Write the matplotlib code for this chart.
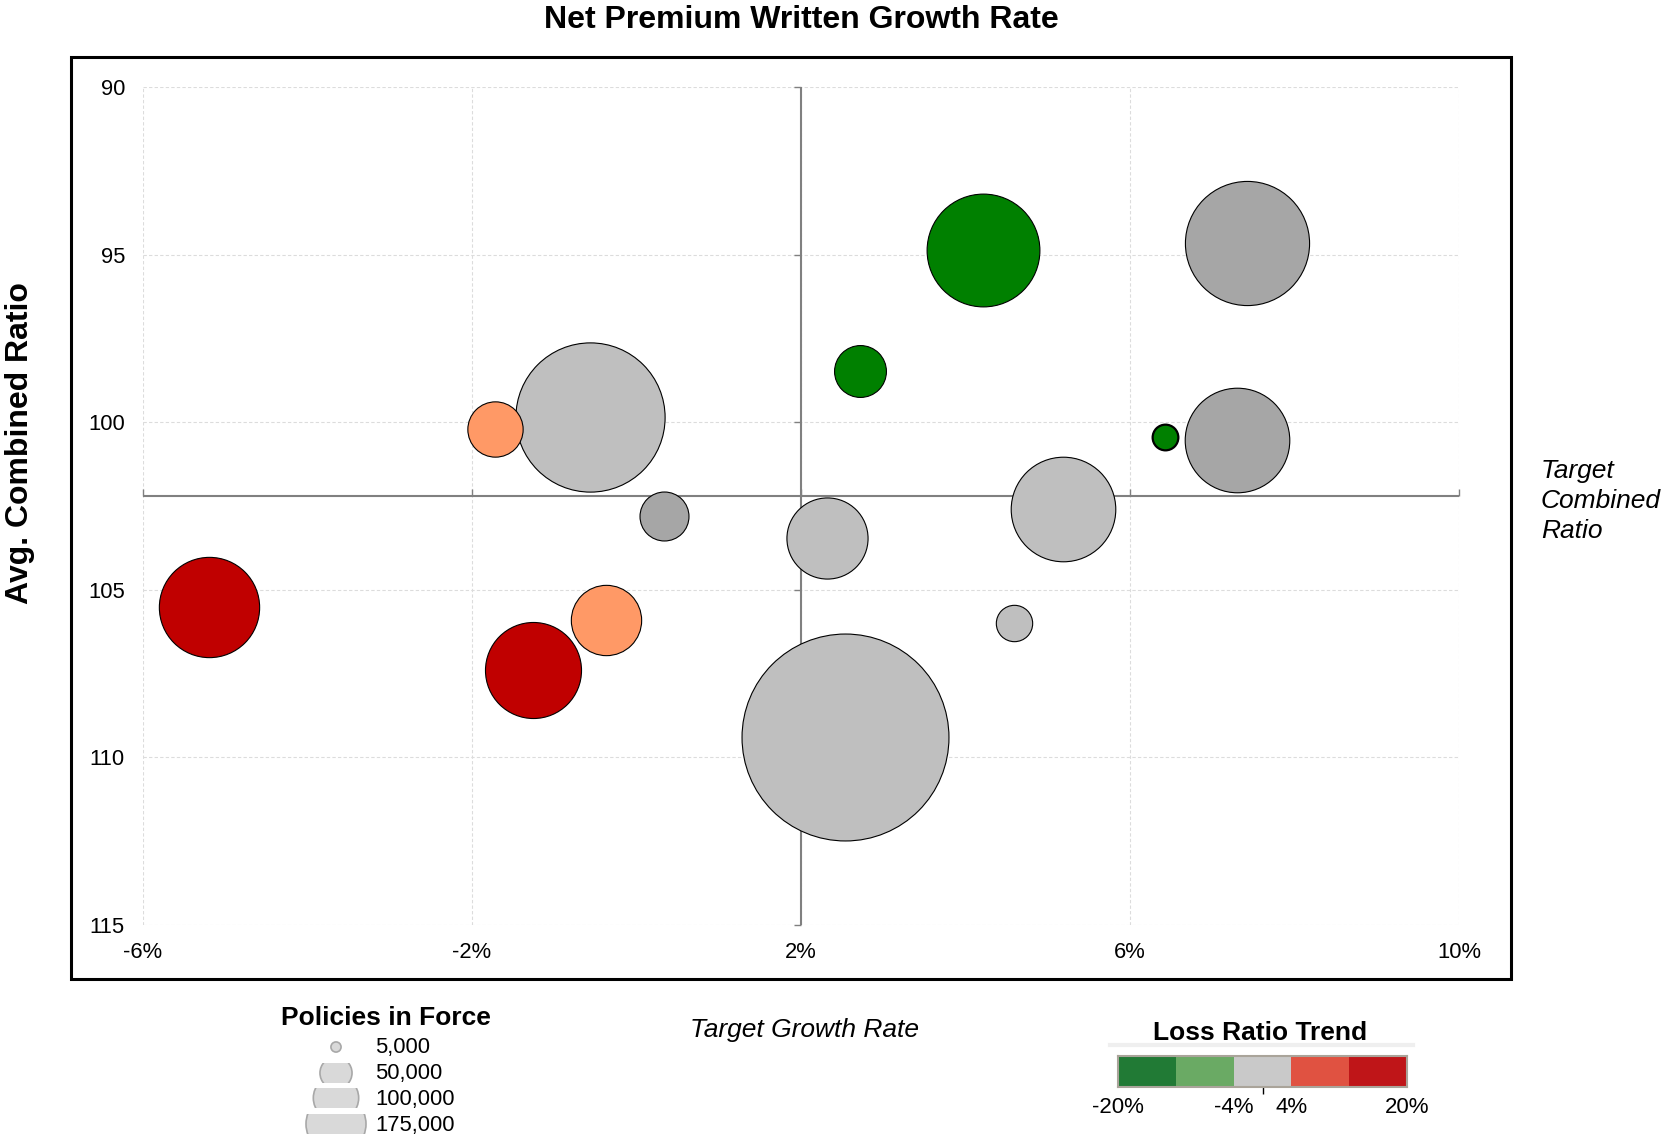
import matplotlib
matplotlib.use("Agg")
import matplotlib.pyplot as plt
from matplotlib import font_manager
from matplotlib.patches import Rectangle, Circle
import numpy as np

# bubble data: growth rate (%), avg combined ratio, policies in force, trend colour
growth = [4.21, 7.42, 2.72, -1.72, -0.57, 6.43, 7.30, 0.34, 5.19, 2.32, -5.20, -0.37, 4.59, -1.26, 2.54]
combined = [94.87, 94.65, 98.47, 100.21, 99.83, 100.43, 100.52, 102.80, 102.58, 103.46, 105.52, 105.90, 106.00, 107.38, 109.38]
policies = [52000, 63000, 11000, 12500, 91000, 2700, 44700, 9800, 44700, 26900, 41100, 20200, 5400, 37700, 175000]
trend = ["green", "dgray", "green", "orange", "lgray", "green", "dgray", "dgray", "lgray", "lgray",
         "red", "orange", "lgray", "red", "lgray"]

target_growth = 2.0
target_combined = 102.2

x_ticks = [-6, -2, 2, 6, 10]
y_ticks = [90, 95, 100, 105, 110, 115]

size_legend_values = [5000, 50000, 100000, 175000]
size_legend_labels = ["5,000", "50,000", "100,000", "175,000"]

trend_bins = [-20, -12, -4, 4, 12, 20]
trend_bin_colors = ["#217a35", "#6aaa64", "#c9c9c9", "#e05241", "#bf1518"]
trend_tick_values = [-20, -4, 4, 20]
trend_marker = 0

palette = {"green": "#008000", "dgray": "#a6a6a6", "lgray": "#bfbfbf",
           "orange": "#ff9966", "red": "#c00000"}

W, H = 1664, 1134
installed = {f.name for f in font_manager.fontManager.ttflist}
plt.rcParams["font.family"] = ["Liberation Sans", "DejaVu Sans"]
narrow = "Liberation Sans Narrow" if "Liberation Sans Narrow" in installed else "Liberation Sans"


def fbox(x0, y0, x1, y1):
    # pixel box (top-left origin) -> figure fraction rect
    return [x0 / W, 1 - y1 / H, (x1 - x0) / W, (y1 - y0) / H]


fig = plt.figure(figsize=(W / 100, H / 100), dpi=100)

# outer frame
fig.patches.append(Rectangle((71 / W, 1 - 979 / H), 1440 / W, 922 / H, transform=fig.transFigure,
                             fill=False, edgecolor="black", linewidth=2.2))

ax = fig.add_axes(fbox(143, 87, 1459, 925))
ax.set_xlim(x_ticks[0], x_ticks[-1])
ax.set_ylim(y_ticks[-1], y_ticks[0])
for s in ax.spines.values():
    s.set_visible(False)
ax.set_xticks(x_ticks)
ax.set_xticklabels([f"{v}%" for v in x_ticks])
ax.set_yticks(y_ticks)
ax.tick_params(length=0, labelsize=15.8)
ax.tick_params(axis="y", pad=13)
ax.tick_params(axis="x", pad=12)
ax.grid(True, color="#dcdcdc", linestyle=(0, (3, 2)), linewidth=0.8)
ax.set_axisbelow(True)

# target lines with small ticks
ax.axvline(target_growth, color="#808080", linewidth=1.5, zorder=2)
ax.axhline(target_combined, color="#808080", linewidth=1.5, zorder=2)
ax.plot([target_growth] * len(y_ticks), y_ticks, linestyle="none", marker=0,
        markersize=5, color="#808080", clip_on=False, zorder=2)
ax.plot(x_ticks, [target_combined] * len(x_ticks), linestyle="none", marker=2,
        markersize=5, color="#808080", clip_on=False, zorder=2)

sizes = np.array(policies) * (22200 / 175000)
order = np.argsort(sizes)[::-1]
for i in order:
    lw = 1.6 if policies[i] < 4000 else 0.8
    ax.scatter(growth[i], combined[i], s=sizes[i], color=palette[trend[i]],
               edgecolors="black", linewidths=lw, zorder=3)

# titles and labels
fig.text(801 / W, 1 - 20 / H, "Net Premium Written Growth Rate", ha="center", va="center",
         fontsize=23, fontweight="bold")
fig.text(20 / W, 1 - 443 / H, "Avg. Combined Ratio", ha="center", va="center", rotation=90,
         fontsize=23, fontweight="bold", family=narrow)
fig.text(1541 / W, 1 - 501 / H, "Target\nCombined\nRatio", ha="left", va="center",
         fontsize=19, style="italic", linespacing=1.3)
fig.text(805 / W, 1 - 1030 / H, "Target Growth Rate", ha="center", va="center",
         fontsize=19, style="italic")

# size legend (pixel coordinates)
lx0, ly0, lx1, ly1 = 270, 1000, 520, 1134
lax = fig.add_axes(fbox(lx0, ly0, lx1, ly1))
lax.set_xlim(lx0, lx1)
lax.set_ylim(ly1, ly0)
lax.axis("off")
lax.text(386, 1018, "Policies in Force", ha="center", va="center", fontsize=19, fontweight="bold")
row_y = [1047, 1073, 1098, 1124]
for v, lab, y in zip(size_legend_values, size_legend_labels, row_y):
    d = 60 * np.sqrt(v / size_legend_values[-1])
    c = Circle((336, y), d / 2, facecolor="#d9d9d9", edgecolor="#a8a8a8", linewidth=1.2)
    lax.add_patch(c)
    band = Rectangle((300, y - 10), 80, 20, transform=lax.transData, visible=False)
    lax.add_patch(band)
    c.set_clip_path(band)
    lax.text(375, y + 1, lab, ha="left", va="center", fontsize=15.8)

# loss ratio trend legend
fig.text(1260 / W, 1 - 1033 / H, "Loss Ratio Trend", ha="center", va="center",
         fontsize=19, fontweight="bold")
fig.add_artist(plt.Line2D([1110 / W, 1413 / W], [1 - 1045 / H] * 2, color="#efefef", linewidth=3))
cax = fig.add_axes(fbox(1118, 1056, 1407, 1087))
for lo, hi, col in zip(trend_bins[:-1], trend_bins[1:], trend_bin_colors):
    cax.barh(0, hi - lo, left=lo, height=1, color=col, edgecolor="none")
cax.set_xlim(trend_bins[0], trend_bins[-1])
cax.set_ylim(-0.5, 0.5)
for s in cax.spines.values():
    s.set_color("#aaa49a")
    s.set_linewidth(1.5)
cax.set_yticks([])
cax.set_xticks(trend_tick_values)
cax.set_xticklabels([f"{v}%" for v in trend_tick_values])
cax.tick_params(axis="x", length=0, labelsize=16, pad=7)
cax.plot([trend_marker], [-0.5], marker=3, markersize=5, color="black", clip_on=False)

fig.savefig("out.png", dpi=100)
